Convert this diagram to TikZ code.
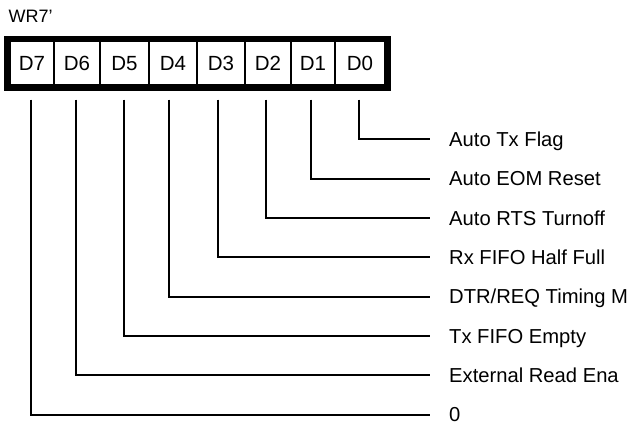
\documentclass[tikz,border=0pt]{standalone}
\usepackage{fontspec}
\setmainfont{Liberation Sans}
\begin{document}
\begin{tikzpicture}[x=1pt,y=-1pt,
  cell/.style={draw,line width=1.2pt,inner sep=0pt,minimum height=43.3pt,
    text height=14.5pt,text depth=0pt,font=\fontsize{20.5}{24}\selectfont},
  lab/.style={anchor=west,inner sep=0pt,text height=14.5pt,text depth=0pt,
    font=\fontsize{20.2}{24}\selectfont},
  conn/.style={line width=2pt}]
\useasboundingbox (0,0) rectangle (629,425);
\clip (0,0) rectangle (629,425);
\fill[white] (0,0) rectangle (629,425);
\node[anchor=base west,inner sep=0pt,font=\fontsize{18}{21}\selectfont] (title) at (8.5,23) {WR7'};
\node[cell,minimum width=44pt] (d7) at (32,63.4) {D7};
\node[cell,minimum width=46pt] (d6) at (77,63.4) {D6};
\node[cell,minimum width=49pt] (d5) at (124.5,63.4) {D5};
\node[cell,minimum width=48pt] (d4) at (173,63.4) {D4};
\node[cell,minimum width=48pt] (d3) at (221,63.4) {D3};
\node[cell,minimum width=46pt] (d2) at (268,63.4) {D2};
\node[cell,minimum width=44pt] (d1) at (313,63.4) {D1};
\node[cell,minimum width=50pt] (d0) at (360,63.4) {D0};
\draw[line width=5pt] ([shift={(-2.5pt,2.5pt)}]d7.north west) rectangle ([shift={(2.5pt,-2.5pt)}]d0.south east);
\node[lab] (l0) at (449,139) {Auto Tx Flag};
\node[lab] (l1) at (449,178.5) {Auto EOM Reset};
\node[lab] (l2) at (449,218) {Auto RTS Turnoff};
\node[lab] (l3) at (449,257) {Rx FIFO Half Full};
\node[lab] (l4) at (449,296.5) {DTR/REQ Timing M};
\node[lab] (l5) at (449,336) {Tx FIFO Empty};
\node[lab] (l6) at (449,375) {External Read Ena};
\node[lab] (l7) at (449,414.5) {0};
\foreach \i/\dx in {0/-1,1/-2,2/-2,3/-3,4/-4,5/-0.5,6/-1,7/-1}{
  \draw[conn] ([shift={(\dx pt,-14pt)}]d\i.south) |- ([xshift=-19pt]l\i.west);
}
\end{tikzpicture}
\end{document}
